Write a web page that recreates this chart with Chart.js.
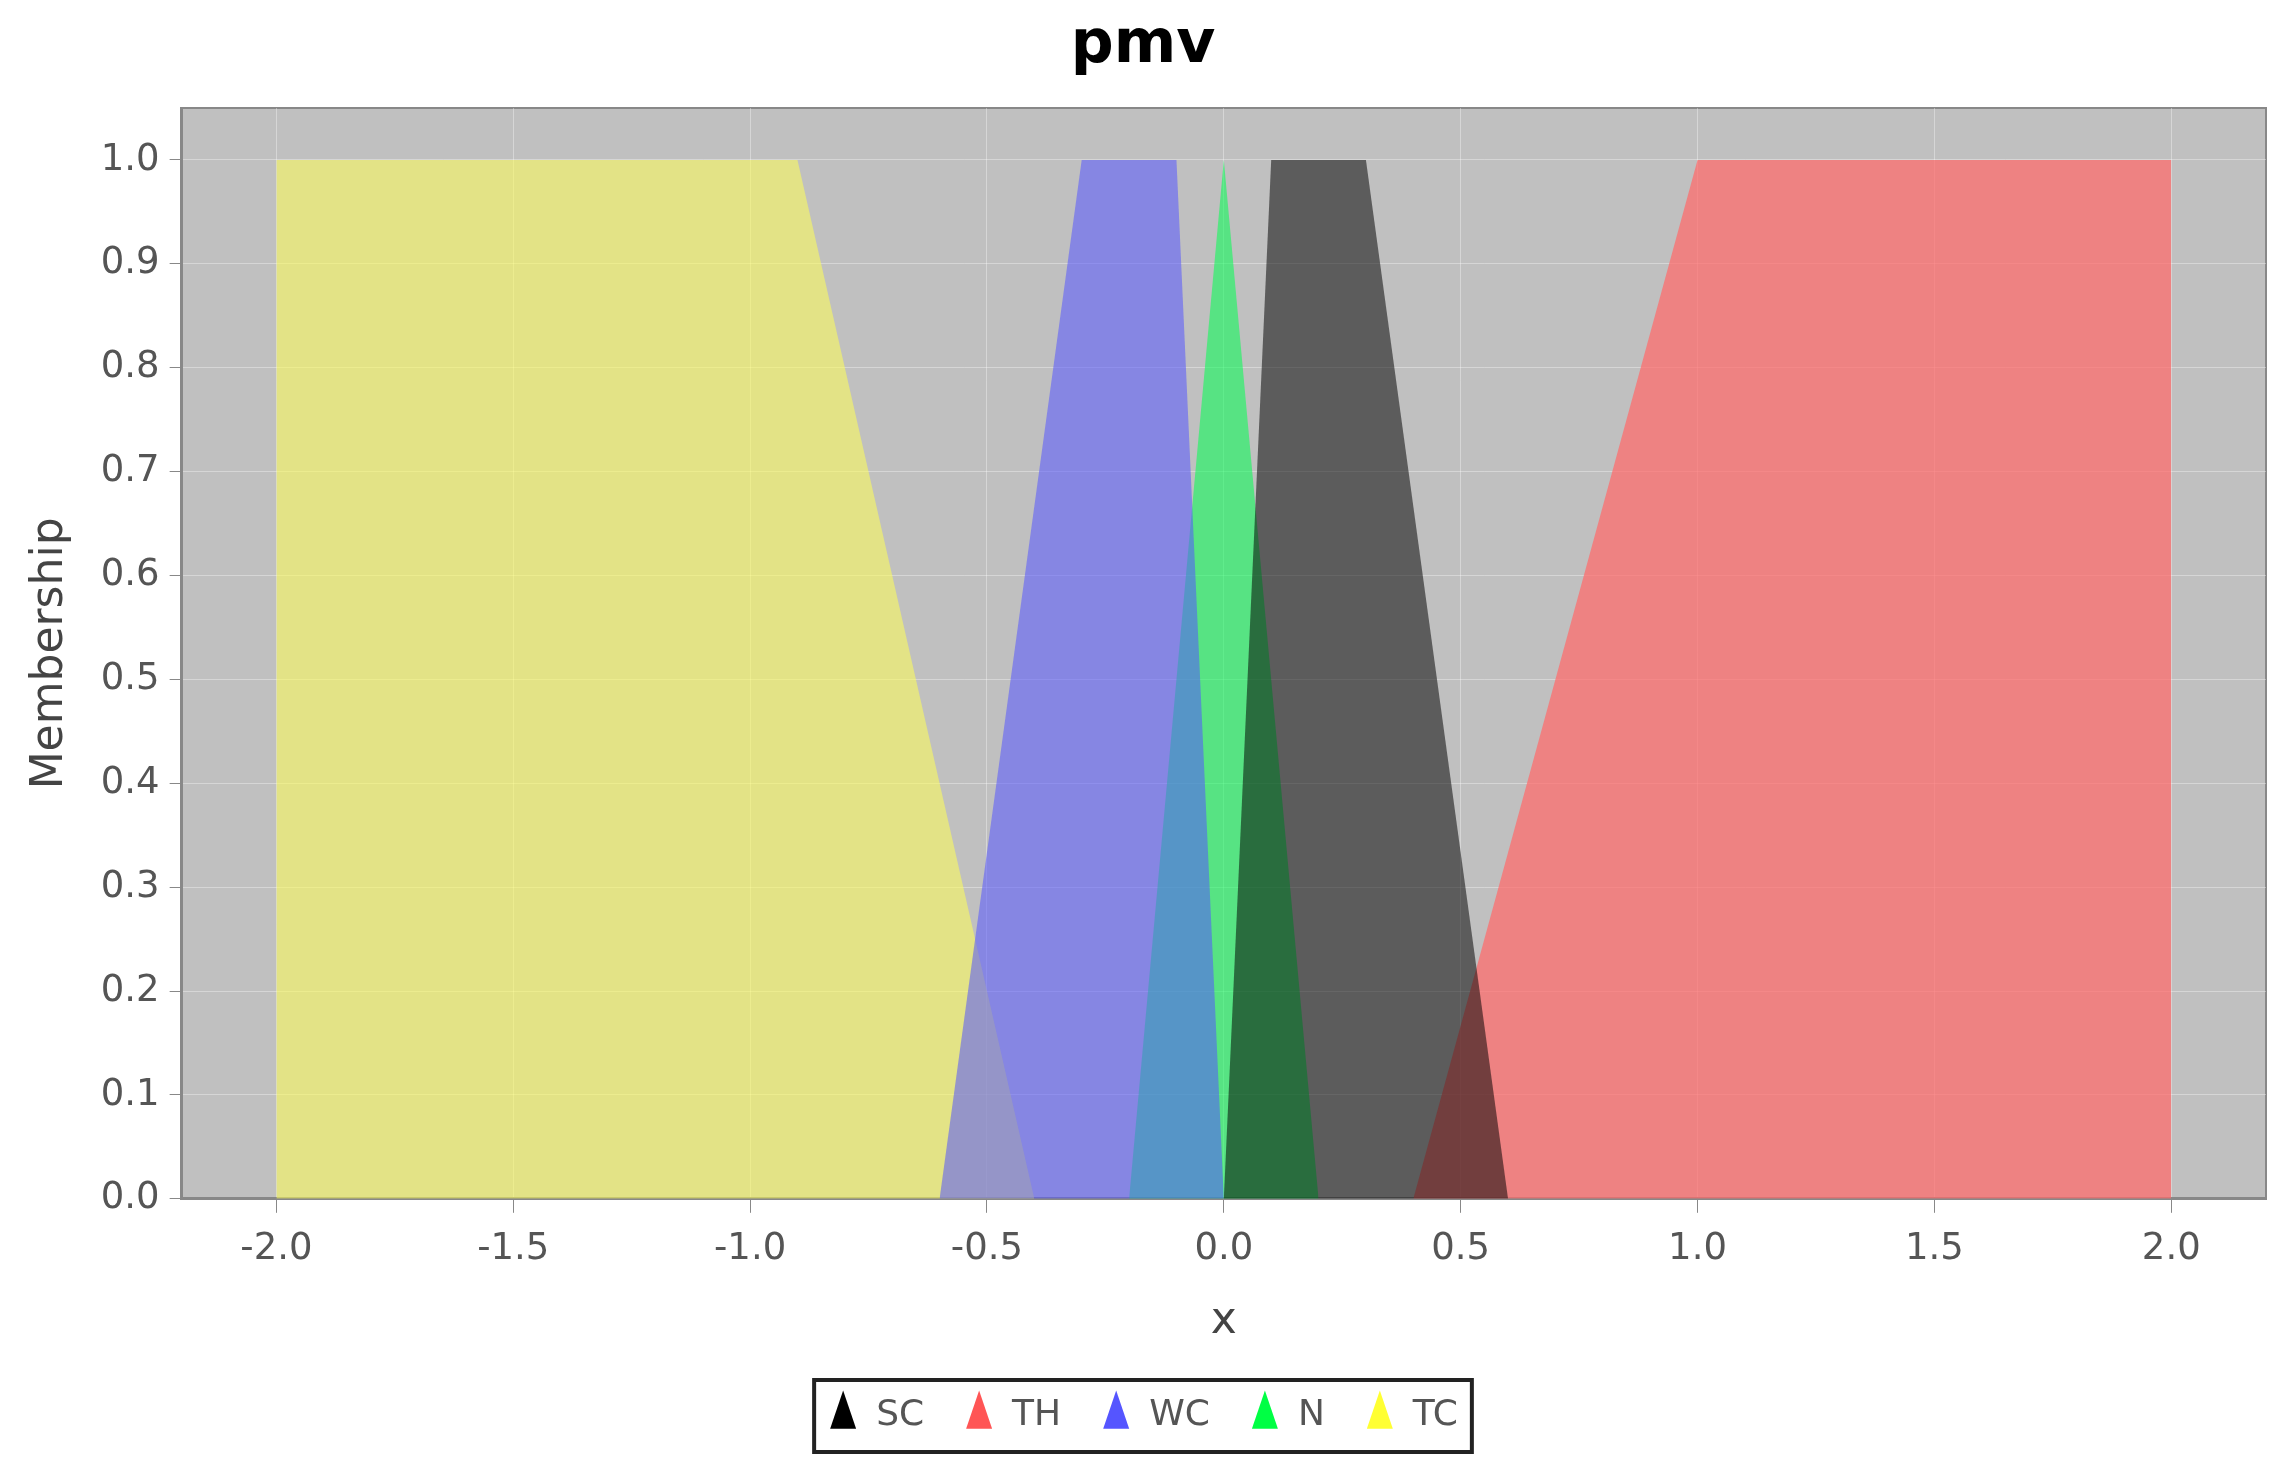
<!DOCTYPE html>
<html>
<head>
<meta charset="utf-8">
<script src="https://cdn.jsdelivr.net/npm/chart.js@4"></script>
<style>
  html, body { margin: 0; padding: 0; background: #fff; }
  #wrap { width: 2294px; height: 1484px; }
</style>
</head>
<body>
<div id="wrap"><canvas id="pmvChart"></canvas></div>
<script>
// membership functions (x, y)
const seriesNames = ["SC", "TH", "WC", "N", "TC"];
const scPoints = [[0.0, 0], [0.1, 1], [0.3, 1], [0.6, 0]];
const thPoints = [[0.4, 0], [1.0, 1], [2.0, 1], [2.0, 0]];
const wcPoints = [[-0.6, 0], [-0.3, 1], [-0.1, 1], [0.0, 0]];
const nPoints = [[-0.2, 0], [0.0, 1], [0.2, 0]];
const tcPoints = [[-2.0, 0], [-2.0, 1], [-0.9, 1], [-0.4, 0]];
const xTicks = [-2.0, -1.5, -1.0, -0.5, 0.0, 0.5, 1.0, 1.5, 2.0];
const yTicks = [0, 0.1, 0.2, 0.3, 0.4, 0.5, 0.6, 0.7, 0.8, 0.9, 1.0];

const solid = ["#000000", "#ff5555", "#5555ff", "#00ff44", "#ffff33"];
const fills = ["rgba(0,0,0,0.52)", "rgba(255,105,105,0.72)", "rgba(85,85,255,0.55)",
  "rgba(0,255,80,0.55)", "rgba(255,255,85,0.55)"];
const allPoints = [scPoints, thPoints, wcPoints, nPoints, tcPoints];

// grey plot background + legend frame
const plotBg = {
  id: "plotBg",
  beforeDraw(chart) {
    const { ctx, chartArea: a } = chart;
    ctx.save();
    ctx.fillStyle = "#c0c0c0";
    ctx.fillRect(a.left, a.top, a.right - a.left, a.bottom - a.top);
    ctx.strokeStyle = "#888";
    ctx.lineWidth = 2;
    ctx.strokeRect(a.left, a.top, a.right - a.left, a.bottom - a.top);
    ctx.restore();
  },
  afterDraw(chart) {
    const boxes = chart.legend.legendHitBoxes, ctx = chart.ctx;
    if (!boxes || !boxes.length) return;
    const first = boxes[0], last = boxes[boxes.length - 1];
    ctx.save();
    ctx.strokeStyle = "#222";
    ctx.lineWidth = 4;
    ctx.strokeRect(first.left - 14, first.top - 18,
      last.left + last.width - first.left + 28, first.height + 36);
    ctx.restore();
  }
};

new Chart(document.getElementById("pmvChart"), {
  type: "line",
  data: {
    datasets: seriesNames.map((name, i) => ({
      label: name,
      data: allPoints[i].map((p) => ({ x: p[0], y: p[1] })),
      borderColor: "rgba(0,0,0,0)",
      backgroundColor: fills[i],
      fill: "origin",
      tension: 0,
      pointRadius: 0,
      pointStyle: "triangle",
      order: i
    }))
  },
  options: {
    responsive: true,
    maintainAspectRatio: false,
    animation: false,
    layout: { padding: { left: 20, right: 28, top: 10, bottom: 40 } },
    plugins: {
      title: {
        display: true, text: "pmv", color: "#000",
        font: { family: "DejaVu Sans", size: 60, weight: "bold" },
        padding: { top: 0, bottom: 26 }
      },
      legend: {
        position: "bottom",
        labels: {
          color: "#555",
          font: { family: "DejaVu Sans", size: 36 },
          usePointStyle: true,
          pointStyleWidth: 30,
          padding: 40,
          generateLabels: (chart) => seriesNames.map((n, i) => ({
            text: n, fillStyle: solid[i], strokeStyle: solid[i],
            pointStyle: "triangle", lineWidth: 0, datasetIndex: i, fontColor: "#555"
          }))
        }
      },
      tooltip: { enabled: false }
    },
    scales: {
      x: {
        type: "linear", min: -2.2, max: 2.2,
        afterBuildTicks: (s) => { s.ticks = xTicks.map((v) => ({ value: v })); },
        ticks: {
          color: "#555", font: { family: "DejaVu Sans", size: 37 },
          callback: (v) => v.toFixed(1), padding: 14
        },
        grid: { color: "rgba(255,255,255,0.35)", tickColor: "#888", tickLength: 14 },
        border: { color: "#888", width: 3 },
        title: {
          display: true, text: "x", color: "#444",
          font: { family: "DejaVu Sans", size: 44 }, padding: { top: 10, bottom: 10 }
        }
      },
      y: {
        min: 0, max: 1.05,
        afterBuildTicks: (s) => { s.ticks = yTicks.map((v) => ({ value: v })); },
        ticks: {
          color: "#555", font: { family: "DejaVu Sans", size: 37 },
          callback: (v) => v.toFixed(1), padding: 10
        },
        grid: { color: "rgba(255,255,255,0.35)", tickColor: "#888", tickLength: 12 },
        border: { color: "#888", width: 3 },
        title: {
          display: true, text: "Membership", color: "#444",
          font: { family: "DejaVu Sans", size: 44 }, padding: { bottom: 14 }
        }
      }
    }
  },
  plugins: [plotBg]
});
</script>
</body>
</html>
